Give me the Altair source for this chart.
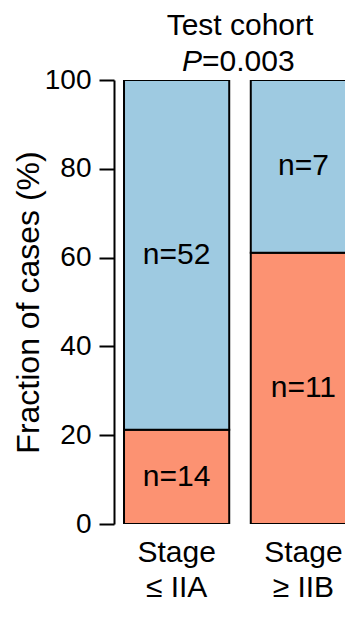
import altair as alt
import pandas as pd

# ---- data ----
categories = ["Stage\n≤ IIA", "Stage\n≥ IIB"]
groups = ["lower", "upper"]          # lower = salmon (bottom), upper = blue (top)
counts_lower = [14, 11]
counts_upper = [52, 7]
colors = ["#FC9272", "#9ECAE1"]
y_ticks = [0, 20, 40, 60, 80, 100]
y_title = "Fraction of cases (%)"
title_line1 = "Test cohort"
p_letter = "P"
p_rest = "=0.003"

rows = []
for cat, lo, up in zip(categories, counts_lower, counts_upper):
    total = lo + up
    base = 0.0
    for g, n in ((groups[0], lo), (groups[1], up)):
        pct = 100.0 * n / total
        rows.append(dict(stage=cat, group=g, n=n, start=base, end=base + pct,
                         mid=base + pct / 2, label=f"n={n}"))
        base += pct
df = pd.DataFrame(rows)

FONT = "Liberation Sans"
W, H = 231, 444          # visible plot area (the right bar runs past the page edge)
XR = 252                 # full x range of the panel

x_enc = alt.X(
    "stage:N", sort=categories, title=None,
    scale=alt.Scale(paddingInner=0.17, paddingOuter=0.079, range=[0, XR]),
    axis=alt.Axis(labelExpr="split(datum.label, '\\n')", labelAngle=0,
                  domain=False, ticks=False, tickSize=0, labelPadding=13,
                  labelFontSize=30, labelLineHeight=35, labelColor="black",
                  labelFont=FONT),
)

y_enc = alt.Y(
    "start:Q", title=y_title,
    scale=alt.Scale(domain=[0, 100], nice=False, zero=True),
    axis=alt.Axis(values=y_ticks, tickSize=15, tickWidth=2, tickColor="black",
                  domainColor="black", domainWidth=2, labelFontSize=28,
                  labelPadding=8, labelColor="black", labelFont=FONT, grid=False,
                  titleFontSize=32, titleFont=FONT, titleFontWeight="normal",
                  titleColor="black", titleX=-76, titleY=H / 2,
                  titleBaseline="alphabetic", titleAlign="center", titleAngle=270),
)

bars = alt.Chart(df).mark_bar(stroke="black", strokeWidth=2, clip=True).encode(
    x=x_enc,
    y=y_enc,
    y2="end:Q",
    color=alt.Color("group:N", scale=alt.Scale(domain=groups, range=colors), legend=None),
)

labels = alt.Chart(df).mark_text(font=FONT, fontSize=30, color="black", baseline="middle").encode(
    x=alt.X("stage:N", sort=categories),
    y=alt.Y("mid:Q"),
    text="label:N",
)

tdf = pd.DataFrame({"t1": [title_line1], "p": [p_letter], "r": [p_rest]})
t1 = alt.Chart(tdf).mark_text(font=FONT, fontSize=30, color="black", align="center",
                              baseline="alphabetic").encode(
    x=alt.value(XR / 2), y=alt.value(-45), text="t1:N")
tp = alt.Chart(tdf).mark_text(font=FONT, fontSize=30, color="black", align="right",
                              baseline="alphabetic", fontStyle="italic").encode(
    x=alt.value(88), y=alt.value(-9), text="p:N")
tr = alt.Chart(tdf).mark_text(font=FONT, fontSize=30, color="black", align="left",
                              baseline="alphabetic").encode(
    x=alt.value(88), y=alt.value(-9), text="r:N")

chart = alt.layer(bars, labels, t1, tp, tr).properties(
    width=W, height=H,
    padding={"left": 106, "top": 72, "right": 0, "bottom": 78},
    autosize=alt.AutoSizeParams(type="none"),
).configure_view(stroke=None)

chart.save("out.html", embed_options={"renderer": "svg", "actions": False})
